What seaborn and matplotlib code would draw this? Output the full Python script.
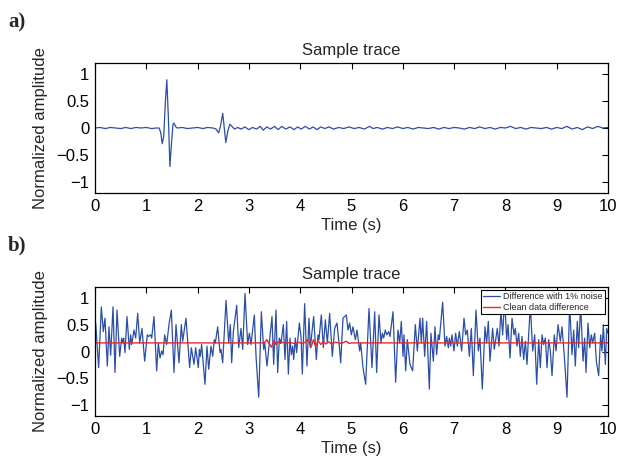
import matplotlib
matplotlib.use("Agg")
import matplotlib.pyplot as plt
import seaborn as sns
import pandas as pd

# ---------------- data ----------------
title = "Sample trace"
xlabel = "Time (s)"
ylabel = "Normalized amplitude"
panel_labels = ["a)", "b)"]
x_ticks = [0, 1, 2, 3, 4, 5, 6, 7, 8, 9, 10]
y_ticks = [-1, -0.5, 0, 0.5, 1]
y_tick_labels = ["\u22121", "\u22120.5", "0", "0.5", "1"]
legend_labels = ["Difference with 1% noise", "Clean data difference"]

# panel a: sample trace (vertices)
trace_t = [0.0, 0.1, 0.2, 0.3, 0.4, 0.5, 0.6, 0.7, 0.8, 0.9, 1.0, 1.1, 1.2, 1.25,
           1.28, 1.31, 1.34, 1.37, 1.40, 1.43, 1.46, 1.49, 1.52, 1.54, 1.57, 1.6,
           1.7, 1.8, 1.9, 2.0, 2.1, 2.2, 2.3, 2.36, 2.41, 2.45, 2.49, 2.52, 2.55,
           2.59, 2.63, 2.67, 2.72, 2.78, 2.85, 2.92, 3.0, 3.07, 3.15, 3.22, 3.28,
           3.35, 3.42, 3.5, 3.57, 3.64, 3.72, 3.8, 3.88, 3.95, 4.02, 4.1, 4.18,
           4.25, 4.33, 4.4, 4.48, 4.56, 4.65, 4.75, 4.85, 4.95, 5.05, 5.15, 5.25,
           5.35, 5.42, 5.5, 5.6, 5.7, 5.8, 5.9, 6.0, 6.1, 6.2, 6.3, 6.4, 6.5, 6.6,
           6.7, 6.8, 6.9, 7.0, 7.1, 7.2, 7.3, 7.4, 7.5, 7.6, 7.7, 7.8, 7.9, 8.0,
           8.1, 8.2, 8.3, 8.4, 8.5, 8.6, 8.7, 8.8, 8.9, 9.0, 9.1, 9.2, 9.3, 9.4,
           9.5, 9.6, 9.7, 9.8, 9.9, 10.0]
trace_amp = [0.0, 0.01, -0.01, 0.01, 0.0, -0.01, 0.01, -0.01, 0.01, 0.0, 0.01, -0.01, 0.0, 0.0,
             -0.08, -0.29, -0.15, 0.45, 0.89, 0.20, -0.71, -0.30, 0.07, 0.09, 0.03, 0.0,
             0.01, -0.01, 0.0, 0.01, -0.01, 0.01, 0.0, -0.02, -0.09, 0.05, 0.27, 0.0, -0.27,
             -0.05, 0.07, 0.03, -0.02, 0.01, -0.02, 0.02, -0.03, 0.01, -0.02, 0.03, -0.04,
             0.02, -0.02, 0.03, -0.03, 0.03, -0.02, 0.02, -0.03, 0.02, -0.02, 0.03, -0.02,
             0.02, -0.03, 0.02, -0.01, 0.02, -0.02, 0.01, -0.01, 0.02, -0.01, 0.01, -0.02,
             0.03, -0.01, 0.01, -0.02, 0.01, -0.01, 0.02, -0.01, 0.01, -0.02, 0.01, 0.0,
             -0.01, 0.01, -0.02, 0.01, -0.01, 0.01, 0.0, -0.02, 0.01, -0.01, 0.02, -0.01,
             0.01, -0.02, 0.01, 0.0, 0.03, -0.01, 0.01, -0.02, 0.01, 0.0, -0.01, 0.01,
             -0.02, 0.01, -0.01, 0.03, -0.02, 0.01, -0.03, 0.02, -0.01, 0.03, 0.0, 0.01]

# panel b: difference with 1% noise (vertices)
noisy_t = [0.013, 0.071, 0.123, 0.162, 0.195, 0.240, 0.273, 0.305, 0.351, 0.390, 0.429,
           0.481, 0.520, 0.546, 0.559, 0.585, 0.624, 0.669, 0.695, 0.715, 0.760, 0.793,
           0.832, 0.871, 0.916, 0.968, 1.020, 1.046, 1.085, 1.105, 1.150, 1.202, 1.235,
           1.267, 1.300, 1.326, 1.358, 1.397, 1.442, 1.488, 1.540, 1.579, 1.637, 1.683,
           1.709, 1.774, 1.845, 1.878, 1.930, 1.962, 2.014, 2.034, 2.053, 2.079, 2.144,
           2.183, 2.216, 2.261, 2.294, 2.326, 2.346, 2.391, 2.437, 2.456, 2.489, 2.554,
           2.606, 2.638, 2.664, 2.697, 2.762, 2.801, 2.846, 2.879, 2.924, 2.976, 3.009,
           3.041, 3.106, 3.139, 3.191, 3.243, 3.288, 3.308, 3.353, 3.450, 3.483, 3.528,
           3.561, 3.593, 3.626, 3.671, 3.704, 3.736, 3.769, 3.801, 3.827, 3.853, 3.873,
           3.905, 3.931, 3.983, 4.016, 4.041, 4.087, 4.132, 4.171, 4.197, 4.262, 4.314,
           4.347, 4.366, 4.412, 4.451, 4.490, 4.529, 4.574, 4.626, 4.672, 4.717, 4.763,
           4.789, 4.834, 4.899, 4.932, 4.964, 4.997, 5.029, 5.075, 5.107, 5.159, 5.179,
           5.224, 5.276, 5.341, 5.399, 5.452, 5.490, 5.536, 5.575, 5.601, 5.627, 5.659,
           5.685, 5.724, 5.750, 5.809, 5.861, 5.906, 5.939, 5.971, 6.004, 6.023, 6.056,
           6.088, 6.140, 6.192, 6.244, 6.283, 6.335, 6.361, 6.387, 6.426, 6.465, 6.517,
           6.549, 6.595, 6.627, 6.660, 6.692, 6.712, 6.777, 6.822, 6.855, 6.887, 6.907,
           6.933, 6.959, 6.998, 7.030, 7.063, 7.102, 7.147, 7.193, 7.225, 7.258, 7.297,
           7.336, 7.375, 7.427, 7.472, 7.504, 7.550, 7.602, 7.634, 7.667, 7.699, 7.751,
           7.784, 7.842, 7.875, 7.914, 7.946, 7.986, 8.025, 8.051, 8.090, 8.129, 8.168,
           8.194, 8.226, 8.259, 8.291, 8.324, 8.356, 8.389, 8.421, 8.486, 8.532, 8.571,
           8.610, 8.649, 8.681, 8.714, 8.746, 8.779, 8.811, 8.844, 8.876, 8.909, 8.954,
           8.987, 9.026, 9.071, 9.104, 9.149, 9.201, 9.253, 9.298, 9.331, 9.363, 9.402,
           9.428, 9.467, 9.513, 9.545, 9.571, 9.610, 9.643, 9.675, 9.701, 9.740, 9.773,
           9.818, 9.857, 9.883, 9.909, 9.948, 9.974, 10.0]
noisy_amp = [0.53, -0.30, 0.83, 0.37, 0.62, -0.27, 0.46, -0.07, 0.83, -0.39, 0.77,
             -0.09, 0.25, 0.16, 0.25, -0.02, 0.65, 0.04, 0.31, 0.13, 0.40, 0.25,
             0.71, 0.16, 0.43, -0.18, 0.31, 0.28, 0.31, 0.25, 0.65, -0.36, 0.16,
             -0.12, 0.01, -0.06, 0.31, 0.13, 0.50, 0.77, -0.39, 0.50, -0.21, 0.50,
             0.19, 0.62, -0.30, 0.07, -0.24, 0.07, -0.30, 0.04, -0.09, 0.13, -0.61,
             0.10, -0.33, 0.10, -0.09, 0.22, 0.16, 0.46, -0.02, 0.04, -0.21, 0.95,
             0.16, 0.50, -0.21, 0.37, 0.86, 0.07, 0.43, 0.04, 1.08, 0.13, 0.34,
             0.13, 0.68, -0.09, -0.85, 0.74, 0.04, 0.16, -0.27, 0.65, -0.24, 0.77,
             -0.39, 0.25, 0.16, 0.50, -0.15, 0.56, -0.42, 0.25, -0.06, 0.10, -0.15,
             0.25, -0.02, 0.53, 0.28, -0.42, 0.89, -0.27, 0.62, 0.07, 0.65, -0.15,
             0.31, 0.22, 0.68, 0.07, 0.59, 0.16, 0.71, -0.09, 0.43, 0.53, 0.10,
             -0.21, 0.62, 0.68, 0.40, 0.53, 0.31, 0.46, 0.22, 0.40, 0.01, 0.16,
             -0.30, -0.61, 0.80, -0.30, 0.74, -0.39, 0.68, 0.16, 0.34, 0.25, 0.40,
             0.31, 0.37, 0.28, 0.74, -0.57, 0.40, 0.16, 0.56, -0.09, 0.31, -0.36,
             0.22, -0.24, -0.36, 0.50, 0.01, 0.62, 0.16, 0.62, -0.09, 0.56, -0.70,
             0.34, -0.18, 0.46, -0.06, 0.31, 0.22, 0.92, 0.10, 0.28, 0.07, 0.25,
             0.10, 0.31, 0.01, 0.34, 0.10, 0.37, 0.01, 0.62, 0.31, 0.40, -0.09,
             0.43, -0.45, 0.77, 0.01, 0.25, -0.70, 0.46, 0.16, 0.56, -0.18, 0.43,
             0.04, 0.43, 0.10, 0.77, 0.31, 0.98, 0.22, 0.50, -0.12, 0.62, 0.31,
             0.43, 0.10, 0.34, -0.09, 0.28, -0.15, 0.19, -0.24, 0.86, 0.01, 0.31,
             -0.61, 0.22, -0.30, 0.31, 0.13, 0.25, -0.30, 0.22, 0.01, -0.45, 0.31,
             0.01, 0.50, 0.19, 0.46, -0.09, -0.85, 0.89, -0.06, 0.40, -0.27, 0.56,
             0.07, 0.86, -0.18, 0.25, -0.39, 0.53, 0.07, 0.31, 0.16, 0.34, -0.18,
             -0.45, 0.31, 0.01, 0.50, -0.24, 0.43, 0.34]

# panel b: clean data difference (vertices)
clean_t = [0.0, 3.30, 3.35, 3.40, 3.44, 3.49, 3.53, 3.57, 3.61, 3.65, 3.72, 3.80,
           3.88, 3.96, 4.04, 4.10, 4.15, 4.21, 4.26, 4.30, 4.35, 4.40, 4.45, 4.50,
           4.55, 4.60, 4.70, 4.80, 4.90, 4.95, 5.00, 10.0]
clean_amp = [0.16, 0.16, 0.22, 0.14, 0.08, 0.21, 0.13, 0.18, 0.15, 0.17, 0.15, 0.17,
             0.15, 0.17, 0.15, 0.17, 0.23, 0.08, 0.22, 0.10, 0.20, 0.13, 0.19, 0.14,
             0.18, 0.15, 0.17, 0.15, 0.19, 0.15, 0.16, 0.16]

# ---------------- style ----------------
BLUE = "#2b4ea6"
RED = "#e8262b"

sns.set_theme(style="white")
plt.rcParams["font.family"] = ["Liberation Sans", "DejaVu Sans"]
plt.rcParams["axes.unicode_minus"] = True

fig = plt.figure(figsize=(6.18, 4.61), dpi=100)
W, H = 618, 461


def axes_px(left, top, right, bottom):
    return fig.add_axes([left / W, (H - bottom) / H, (right - left) / W, (bottom - top) / H])


ax1 = axes_px(95, 63, 608, 193)
ax2 = axes_px(95, 287, 608, 416)

df_a = pd.DataFrame({"t": trace_t, "amp": trace_amp})
df_noisy = pd.DataFrame({"t": noisy_t, "amp": noisy_amp})
df_clean = pd.DataFrame({"t": clean_t, "amp": clean_amp})

sns.lineplot(data=df_a, x="t", y="amp", ax=ax1, color=BLUE, linewidth=0.9,
             sort=False, estimator=None)
sns.lineplot(data=df_noisy, x="t", y="amp", ax=ax2, color=BLUE, linewidth=0.9,
             sort=False, estimator=None, label=legend_labels[0])
sns.lineplot(data=df_clean, x="t", y="amp", ax=ax2, color=RED, linewidth=1.0,
             sort=False, estimator=None, label=legend_labels[1])

for ax in (ax1, ax2):
    ax.set_xlim(0, 10)
    ax.set_ylim(-1.2, 1.2)
    ax.set_xticks(x_ticks)
    ax.set_xticklabels([str(v) for v in x_ticks])
    ax.set_yticks(y_ticks)
    ax.set_yticklabels(y_tick_labels)
    ax.tick_params(direction="in", top=True, right=True, length=4, width=0.8,
                   labelsize=12, colors="black", pad=4)
    for s in ax.spines.values():
        s.set_color("black")
        s.set_linewidth(0.9)
        s.set_visible(True)
    ax.set_title(title, fontsize=12, pad=6)
    ax.set_xlabel(xlabel, fontsize=12, labelpad=3)
    ax.set_ylabel(ylabel, fontsize=12, labelpad=6)
    ax.set_facecolor("white")

leg = ax2.legend(loc="upper right", fontsize=6.5, frameon=True, fancybox=False,
                 edgecolor="black", framealpha=1.0, borderpad=0.25, labelspacing=0.15,
                 handlelength=1.8, handletextpad=0.4, borderaxespad=0.35)
leg.get_frame().set_linewidth(0.8)

fig.text(8 / W, 1 - 22 / H, panel_labels[0], fontsize=15, fontweight="bold",
         family=["Liberation Serif", "DejaVu Serif"], va="center", ha="left")
fig.text(8 / W, 1 - 245 / H, panel_labels[1], fontsize=15, fontweight="bold",
         family=["Liberation Serif", "DejaVu Serif"], va="center", ha="left")

fig.savefig("out.png", dpi=100, facecolor="white")
